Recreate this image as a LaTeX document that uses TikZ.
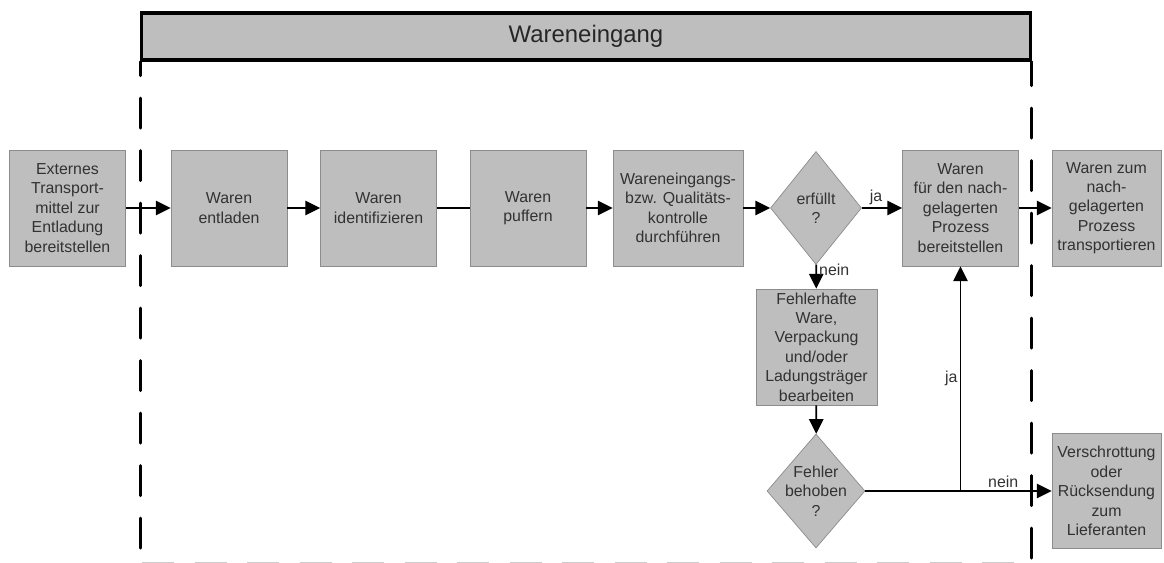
\documentclass[tikz,border=0pt]{standalone}
\usepackage{fontspec}
\setmainfont{Liberation Sans}
\usetikzlibrary{arrows.meta,shapes.geometric}
\definecolor{boxfill}{RGB}{190,190,190}
\definecolor{boxline}{RGB}{140,140,140}
\definecolor{txtc}{RGB}{50,50,50}
\tikzset{
  proc/.style={rectangle,draw=boxline,fill=boxfill,line width=0.5pt,minimum width=2.9cm,minimum height=2.9cm,inner sep=0.5pt,align=center,text=txtc,font=\fontsize{11.3}{13.8}\selectfont},
  dec/.style={diamond,draw=boxline,fill=boxfill,line width=0.5pt,inner sep=0pt},
  dtxt/.style={align=center,text=txtc,font=\fontsize{11.3}{13.8}\selectfont},
  flow/.style={-{Triangle[length=3.7mm,width=3.6mm]},line width=1.2pt,black},
  link/.style={line width=1.2pt,black},
  lbl/.style={font=\fontsize{11.3}{13.8}\selectfont,text=txtc,inner sep=1.5pt},
  frame/.style={line width=2.2pt,line cap=round,dash pattern=on 0.75cm off 0.5625cm},
  head/.style={rectangle,draw=black,fill=boxfill,line width=2.2pt,minimum width=22.2cm,minimum height=1.175cm,font=\fontsize{17}{20}\selectfont,text=black!85},
}
\begin{document}
\begin{tikzpicture}[x=0.025cm,y=-0.025cm]
  \useasboundingbox (0,0) rectangle (1164,563);
  % lane header and dashed borders
  \node[head] (lane) at (586,36.5){Wareneingang};
  \draw[frame,dash phase=0.4cm] (lane.south west) -- ++(0,500);
  \draw[frame,dash phase=0.15cm] (lane.south east) -- ++(0,498);
  \coordinate (bl) at (142,562.5);
  \coordinate (br) at (1030,562.5);
  \draw[line width=0.8pt,black!20,dash pattern=on 0.8cm off 0.5125cm] (bl) -- (br);
  % main flow
  \node[proc] (ext) at (67.5,208){Externes\\Transport-\\mittel zur\\Entladung\\bereitstellen};
  \node[proc] (unload) at (229,208){Waren\\entladen};
  \node[proc] (ident) at (378.5,208){Waren\\identifizieren};
  \node[proc] (buffer) at (528,208){Waren\\puffern};
  \node[proc,minimum width=3.25cm] (check) at (678,208){Wareneingangs-\\bzw. Qualitäts-\\kontrolle\\durchführen};
  \node[dec,minimum width=2.275cm,minimum height=2.825cm,label={[dtxt]center:{erfüllt\\?}}] (ok) at (816,208){};
  \node[proc] (ready) at (960.5,208){Waren\\für den nach-\\gelagerten\\Prozess\\bereitstellen};
  \node[proc,minimum width=2.725cm] (next) at (1106.5,208){Waren zum\\nach-\\gelagerten\\Prozess\\transportieren};
  % rework branch
  \node[proc,minimum width=3.025cm] (rework) at (816.5,347){Fehlerhafte\\Ware,\\Verpackung\\und/oder\\Ladungsträger\\bearbeiten};
  \node[dec,minimum width=2.45cm,minimum height=2.85cm,label={[dtxt]center:{Fehler\\behoben\\?}}] (fixed) at (816,491){};
  \node[proc,minimum width=2.725cm,minimum height=2.875cm] (scrap) at (1106.5,491){Verschrottung\\oder\\Rücksendung\\zum\\Lieferanten};
  \coordinate (split) at (ready.south |- fixed);
  % connectors
  \draw[flow] (ext) -- (unload);
  \draw[flow] (unload) -- (ident);
  \draw[link] (ident) -- (buffer);
  \draw[flow] (buffer) -- (check);
  \draw[flow] (check) -- (ok);
  \draw[flow] (ok) -- node[lbl,above,pos=0.35]{ja} (ready);
  \draw[flow] (ready) -- (next);
  \draw[flow] (ok) -- node[lbl,right,pos=0.2]{nein} (rework);
  \draw[flow] (rework) -- (fixed);
  \draw[flow] (fixed) -- node[lbl,above,pos=0.74]{nein} (scrap);
  \draw[flow] (split) -- node[lbl,left]{ja} (ready);
\end{tikzpicture}
\end{document}
